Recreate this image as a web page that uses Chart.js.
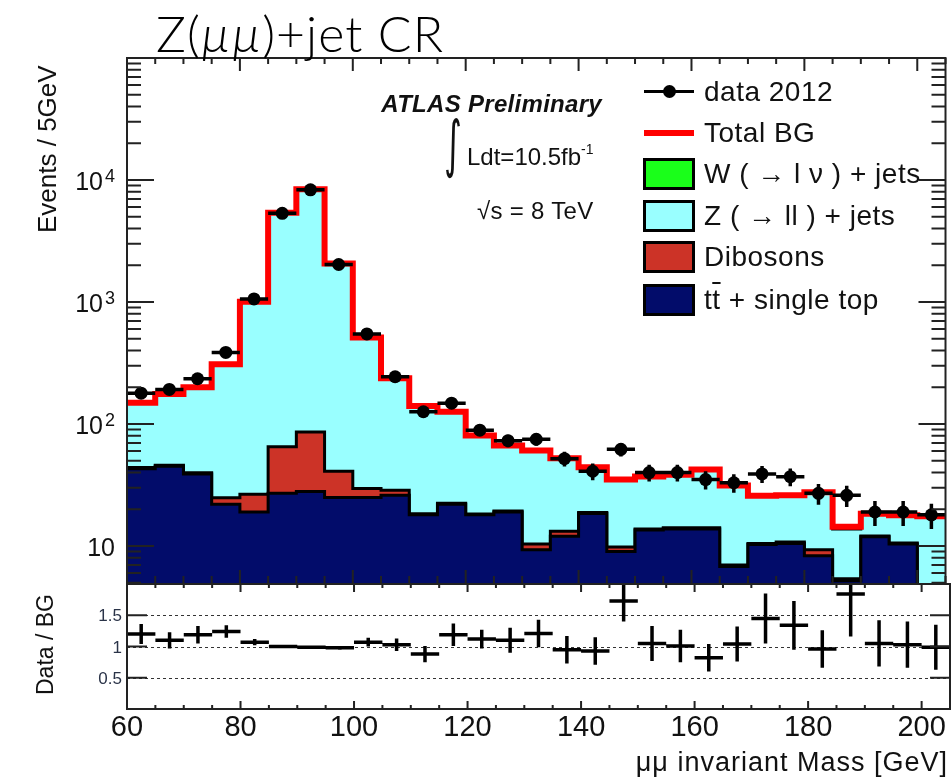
<!DOCTYPE html>
<html>
<head>
<meta charset="utf-8">
<script src="https://cdn.jsdelivr.net/npm/chart.js@4.4.1/dist/chart.umd.min.js"></script>
<style>
  html, body { margin: 0; padding: 0; background: #fff; }
  #wrap { position: relative; width: 952px; height: 781px; overflow: hidden;
          font-family: "Liberation Sans", Arial, sans-serif; color: #111; }
  canvas { position: absolute; left: 0; }
  #main { top: 0; }
  #ratio { top: 570px; }
  .txt { position: absolute; white-space: nowrap; line-height: 1; }
  #title { left: 156px; top: 8px; font-family: Lato, "Open Sans", sans-serif; font-weight: 300; font-size: 50px; letter-spacing: 1px; color: #000; }
  #atlas { right: 350px; top: 92px; font-size: 24px; font-weight: bold; font-style: italic; letter-spacing: 0.3px; }
  #integral { left: 444px; top: 113px; font-family: "DejaVu Sans", sans-serif; font-size: 62px; transform: scaleX(0.55); transform-origin: left top; }
  #lumi { left: 467px; top: 142px; font-size: 24px; }
  #lumi sup { font-size: 14px; vertical-align: 11px; }
  #sqrts { left: 477px; top: 199px; font-size: 24px; letter-spacing: 0.3px; }
  #ytitle { left: 34px; top: 233px; font-size: 26px; transform-origin: left top; transform: rotate(-90deg); }
  #rtitle { left: 34px; top: 695px; font-size: 23px; transform-origin: left top; transform: rotate(-90deg); }
  #xtitle { right: 4px; top: 749px; font-size: 27px; letter-spacing: 1px; }
  .leg { position: absolute; left: 643px; height: 40px; display: flex; align-items: center;
         font-size: 28px; letter-spacing: 0.5px; line-height: 1; white-space: nowrap; }
  .sym { position: relative; flex: none; width: 52px; height: 32px; margin-right: 9px; box-sizing: border-box; }
  .box { border: 3px solid #000; }
  .dline { position: absolute; left: 1px; right: 1px; top: 14px; height: 3px; background: #000; }
  .dot { position: absolute; left: 20px; top: 9px; width: 13px; height: 13px; border-radius: 50%; background: #000; }
  .rline { position: absolute; left: 1px; right: 1px; top: 13px; height: 6px; background: #ff0000; }
  .tbar { text-decoration: overline; }
</style>
</head>
<body>
<div id="wrap">
  <canvas id="main" width="952" height="600"></canvas>
  <canvas id="ratio" width="952" height="211"></canvas>

  <div class="txt" id="title">Z(<i>µµ</i>)+jet CR</div>
  <div class="txt" id="atlas">ATLAS Preliminary</div>
  <div class="txt" id="integral">∫</div>
  <div class="txt" id="lumi">Ldt=10.5fb<sup>-1</sup></div>
  <div class="txt" id="sqrts">√s = 8 TeV</div>
  <div class="txt" id="ytitle">Events / 5GeV</div>
  <div class="txt" id="rtitle">Data / BG</div>
  <div class="txt" id="xtitle">μμ invariant Mass [GeV]</div>

  <div class="leg" style="top:72px"><span class="sym"><span class="dline"></span><span class="dot"></span></span>data 2012</div>
  <div class="leg" style="top:113px"><span class="sym"><span class="rline"></span></span>Total BG</div>
  <div class="leg" style="top:154px"><span class="sym box" style="background:#1aff1a"></span>W ( → l ν ) + jets</div>
  <div class="leg" style="top:196px"><span class="sym box" style="background:#99ffff"></span>Z ( → ll ) + jets</div>
  <div class="leg" style="top:237px"><span class="sym box" style="background:#cc3327"></span>Dibosons</div>
  <div class="leg" style="top:280px"><span class="sym box" style="background:#020c6a"></span>t<span class="tbar">t</span>&nbsp;+ single top</div>
</div>

<script>
// --- Data ---
const binEdges = [60, 65, 70, 75, 80, 85, 90, 95, 100, 105, 110, 115, 120, 125, 130, 135, 140,
                  145, 150, 155, 160, 165, 170, 175, 180, 185, 190, 195, 200, 205];

const dataCounts = [179, 192, 235, 386, 1059, 5335, 8300, 2030, 547, 244, 126, 148, 89, 73, 75,
                    52, 41, 62, 40, 40, 35, 33, 39, 37, 27, 26, 19, 19, 18];
const dataErr = [13, 14, 15, 20, 33, 73, 91, 45, 23, 16, 11, 12, 9.4, 8.5, 8.7,
                 7.2, 6.4, 7.9, 6.3, 6.3, 5.9, 5.7, 6.2, 6.1, 5.2, 5.1, 4.4, 4.4, 4.2];

// background components, bottom of the stack first
const ttbar = [43, 45, 39, 22, 19, 27, 28, 25, 25, 26, 18, 22, 18, 19, 9.3,
               12, 18.5, 9.0, 13.5, 13.8, 13.8, 6.8, 10.3, 10.5, 8.3, 5.2, 11.9, 10.4, 3.0];
const diboson = [0.9, 0.9, 0.8, 2.9, 7.6, 38, 58, 16, 4.6, 2.7, 0.4, 0.4, 0.3, 0.4, 1.1,
                 1.2, 0.3, 0.8, 0.3, 0.3, 0.3, 0.2, 0.2, 0.3, 1.0, 0.2, 0.2, 0.2, 0.2];
const zjets = [105, 130, 160, 283, 979, 5335, 8314, 2029, 482, 208, 122, 103, 62, 47, 50,
               39, 25, 25, 23, 24, 28, 24, 15, 15, 18, 8.4, 6, 7, 14];
const wjets = [0.3, 0.3, 0.3, 0.3, 0.3, 0.3, 0.3, 0.3, 0.3, 0.3, 0.3, 0.3, 0.3, 0.3, 0.3,
               0.3, 0.3, 0.3, 0.3, 0.3, 0.3, 0.3, 0.3, 0.3, 0.3, 0.6, 0.3, 0.3, 0.3];

const ratioVals = [1.20, 1.10, 1.19, 1.24, 1.07, 1.00, 0.99, 0.98, 1.07, 1.03, 0.88, 1.19, 1.12, 1.10, 1.21,
                   0.95, 0.93, 1.73, 1.05, 1.01, 0.82, 1.04, 1.45, 1.34, 0.96, 1.84, 1.05, 1.03, 0.99];
const ratioErr = [0.16, 0.13, 0.14, 0.10, 0.05, 0.02, 0.02, 0.03, 0.07, 0.10, 0.13, 0.18, 0.15, 0.20, 0.22,
                  0.22, 0.22, 0.33, 0.28, 0.26, 0.22, 0.28, 0.40, 0.39, 0.30, 0.68, 0.37, 0.37, 0.36];

const xMajorTicks = [60, 80, 100, 120, 140, 160, 180, 200];
const yMajorTicks = [10, 100, 1000, 10000];
const yTickSup = ['', '2', '3', '4'];
const ratioTicks = [0.5, 1, 1.5];

const FONT = '"Liberation Sans", Arial, sans-serif';

// --- helpers ---
function histPoints(vals) {
    const pts = [];
    vals.forEach((v, i) => {
        pts.push({ x: binEdges[i], y: v }, { x: binEdges[i + 1], y: v });
    });
    return pts;
}

// horizontal bin-width bars plus vertical error bars, split by gaps
function errorBarPoints(vals, errs) {
    const pts = [];
    vals.forEach((v, i) => {
        const lo = binEdges[i], hi = binEdges[i + 1], mid = (lo + hi) / 2;
        pts.push({ x: lo, y: v }, { x: hi, y: v }, { x: hi, y: null });
        pts.push({ x: mid, y: v - errs[i] }, { x: mid, y: v + errs[i] }, { x: mid, y: null });
    });
    return pts;
}

const binCenters = binEdges.slice(0, -1).map((e, i) => (e + binEdges[i + 1]) / 2);

// stacked tops
const topTtbar = ttbar.slice();
const topDiboson = topTtbar.map((v, i) => v + diboson[i]);
const topZ = topDiboson.map((v, i) => v + zjets[i]);
const topW = topZ.map((v, i) => v + wjets[i]);

function stackSet(label, tops, color, order) {
    return {
        label: label,
        data: histPoints(tops),
        backgroundColor: color,
        borderColor: '#000',
        borderWidth: 3,
        fill: 'start',
        pointRadius: 0,
        tension: 0,
        order: order
    };
}

// --- axis frame, inner ticks and tick labels (ROOT style) ---
const mainAxes = {
    id: 'mainAxes',
    afterDatasetsDraw(chart) {
        const { ctx, chartArea: a, scales: { x, y } } = chart;
        ctx.save();
        ctx.strokeStyle = '#222';
        ctx.lineWidth = 2;
        ctx.beginPath();
        binEdges.forEach(v => {
            const px = x.getPixelForValue(v);
            const major = xMajorTicks.includes(v);
            ctx.moveTo(px, a.bottom); ctx.lineTo(px, a.bottom - (major ? 14 : 8));
            ctx.moveTo(px, a.top); ctx.lineTo(px, a.top + (major ? 13 : 6));
        });
        for (let e = 0; e <= 5; e++) {
            for (let m = 1; m <= 9; m++) {
                const v = m * Math.pow(10, e);
                if (v < y.min || v > y.max) continue;
                const py = y.getPixelForValue(v);
                const len = m === 1 ? 27 : 14;
                ctx.moveTo(a.left, py); ctx.lineTo(a.left + len, py);
                ctx.moveTo(a.right, py); ctx.lineTo(a.right - len, py);
            }
        }
        ctx.stroke();
        ctx.strokeRect(a.left, a.top, a.right - a.left, a.bottom - a.top);

        ctx.fillStyle = '#111';
        ctx.textBaseline = 'alphabetic';
        yMajorTicks.forEach((v, i) => {
            const py = y.getPixelForValue(v);
            const sup = yTickSup[i];
            ctx.font = '25px ' + FONT;
            ctx.textAlign = 'right';
            ctx.fillText('10', sup ? a.left - 24 : a.left - 12, py + 10);
            if (sup) {
                ctx.font = '18px ' + FONT;
                ctx.textAlign = 'left';
                ctx.fillText(sup, a.left - 22, py + 2);
            }
        });
        ctx.restore();
    }
};

const ratioAxes = {
    id: 'ratioAxes',
    beforeDatasetsDraw(chart) {
        const { ctx, chartArea: a, scales: { y } } = chart;
        ctx.save();
        ctx.strokeStyle = '#333';
        ctx.lineWidth = 1;
        ctx.setLineDash([3, 3]);
        ctx.beginPath();
        ratioTicks.forEach(v => {
            const py = Math.round(y.getPixelForValue(v)) + 0.5;
            ctx.moveTo(a.left, py); ctx.lineTo(a.right, py);
        });
        ctx.stroke();
        ctx.restore();
    },
    afterDatasetsDraw(chart) {
        const { ctx, chartArea: a, scales: { x, y } } = chart;
        ctx.save();
        ctx.strokeStyle = '#222';
        ctx.lineWidth = 2;
        ctx.beginPath();
        binEdges.forEach(v => {
            const px = x.getPixelForValue(v);
            const major = xMajorTicks.includes(v);
            ctx.moveTo(px, a.bottom); ctx.lineTo(px, a.bottom - (major ? 8 : 4));
            ctx.moveTo(px, a.top); ctx.lineTo(px, a.top + (major ? 8 : 4));
        });
        ratioTicks.forEach(v => {
            const py = y.getPixelForValue(v);
            ctx.moveTo(a.left, py); ctx.lineTo(a.left + 20, py);
            ctx.moveTo(a.right, py); ctx.lineTo(a.right - 20, py);
        });
        ctx.stroke();
        ctx.strokeRect(a.left, a.top, a.right - a.left, a.bottom - a.top);

        ctx.fillStyle = '#2a3348';
        ctx.font = '17px ' + FONT;
        ctx.textAlign = 'right';
        ctx.textBaseline = 'alphabetic';
        ratioTicks.forEach(v => {
            ctx.fillText(String(v), a.left - 5, y.getPixelForValue(v) + 6);
        });

        ctx.fillStyle = '#111';
        ctx.font = '29px ' + FONT;
        ctx.textAlign = 'center';
        xMajorTicks.forEach(v => {
            ctx.fillText(String(v), x.getPixelForValue(v), a.bottom + 27);
        });
        ctx.restore();
    }
};

const commonOptions = {
    responsive: false,
    devicePixelRatio: 1,
    animation: false,
    events: [],
    plugins: {
        legend: { display: false },
        tooltip: { enabled: false }
    }
};

// --- Main panel ---
new Chart(document.getElementById('main'), {
    type: 'line',
    data: {
        datasets: [
            {
                label: 'data 2012',
                data: binCenters.map((c, i) => ({ x: c, y: dataCounts[i] })),
                showLine: false,
                pointRadius: 6.5,
                pointBackgroundColor: '#000',
                pointBorderWidth: 0,
                order: 0
            },
            {
                label: 'data errors',
                data: errorBarPoints(dataCounts, dataErr),
                borderColor: '#000',
                borderWidth: 3.5,
                pointRadius: 0,
                fill: false,
                spanGaps: false,
                order: 1
            },
            {
                label: 'Total BG',
                data: histPoints(topW),
                borderColor: '#ff0000',
                borderWidth: 6,
                pointRadius: 0,
                fill: false,
                order: 2
            },
            stackSet('t tbar + single top', topTtbar, '#020c6a', 3),
            stackSet('Dibosons', topDiboson, '#cc3327', 4),
            stackSet('Z + jets', topZ, '#99ffff', 5),
            stackSet('W + jets', topW, '#1aff1a', 6)
        ]
    },
    options: Object.assign({}, commonOptions, {
        layout: { padding: { left: 127, right: 2, top: 58, bottom: 16 } },
        scales: {
            x: { type: 'linear', min: 60, max: 205, bounds: 'data', display: false },
            y: { type: 'logarithmic', min: 4.88, max: 100000, bounds: 'data', display: false }
        }
    }),
    plugins: [mainAxes]
});

// --- Ratio panel ---
new Chart(document.getElementById('ratio'), {
    type: 'line',
    data: {
        datasets: [{
            label: 'Data / BG',
            data: errorBarPoints(ratioVals, ratioErr),
            borderColor: '#000',
            borderWidth: 3.5,
            pointRadius: 0,
            fill: false,
            spanGaps: false
        }]
    },
    options: Object.assign({}, commonOptions, {
        layout: { padding: { left: 127, right: 2, top: 14, bottom: 72 } },
        scales: {
            x: { type: 'linear', min: 60, max: 205, bounds: 'data', display: false },
            y: { type: 'linear', min: 0, max: 2, bounds: 'data', display: false }
        }
    }),
    plugins: [ratioAxes]
});
</script>
</body>
</html>
